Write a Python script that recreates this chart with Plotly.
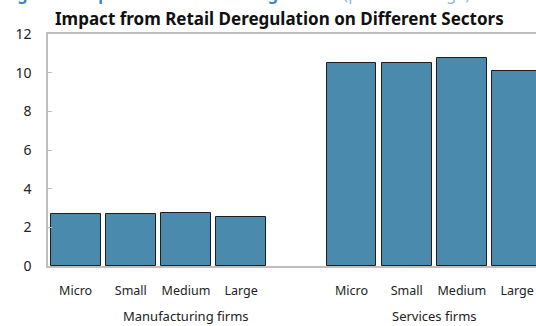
import plotly.graph_objects as go

# Category slots: 4 manufacturing sizes, one empty spacer slot, 4 services sizes
sizes = ["Micro", "Small", "Medium", "Large"]
groups = ["Manufacturing firms", "Services firms"]
manufacturing = [2.7, 2.7, 2.76, 2.56]
services = [10.52, 10.52, 10.75, 10.08]

manu_pos = [0, 1, 2, 3]
serv_pos = [5, 6, 7, 8]
y_ticks = [0, 2, 4, 6, 8, 10, 12]

W, H = 536, 326
L, R, T, B = 48, 0, 34, 60
FONT = "Noto Sans"
BAR = "#4a8aad"

fig = go.Figure()
fig.add_trace(go.Bar(
    x=manu_pos + serv_pos,
    y=manufacturing + services,
    width=0.905,
    marker=dict(color=BAR, line=dict(color="#1e1e1e", width=1)),
    hoverinfo="skip",
))

fig.update_layout(
    width=W, height=H,
    margin=dict(l=L, r=R, t=T, b=B, pad=0),
    paper_bgcolor="white", plot_bgcolor="white",
    showlegend=False,
    font=dict(family=FONT, size=12, color="#222222"),
    bargap=0,
)

fig.update_xaxes(
    range=[-0.5, 8.343],
    tickvals=manu_pos + serv_pos,
    ticktext=sizes + sizes,
    ticks="", showgrid=False, zeroline=False,
    showline=True, linecolor="#bfbfbf", linewidth=1.5, mirror=True,
    ticklabelstandoff=12,
    tickfont=dict(family=FONT, size=12.5, color="#222222"),
)
fig.update_yaxes(
    range=[0, 12],
    tickvals=y_ticks,
    ticks="inside", ticklen=4, tickcolor="#bfbfbf",
    showgrid=False, zeroline=False,
    showline=True, linecolor="#bfbfbf", linewidth=1.5,
    ticklabelstandoff=12,
    tickfont=dict(family=FONT, size=14, color="#222222"),
)

plot_w = W - L - R
plot_h = H - T - B


def paper_x(px):
    return (px - L) / plot_w


def paper_y(px):
    return 1 + (T - px) / plot_h


# Group labels centred under each group's slots
for gx, label in zip([2, 6.5], groups):
    fig.add_annotation(x=gx, y=paper_y(316), xref="x", yref="paper",
                       text=label, showarrow=False, yanchor="middle",
                       font=dict(family=FONT, size=13, color="#222222"))

# Chart subtitle
fig.add_annotation(x=paper_x(279), y=paper_y(18), xref="paper", yref="paper",
                   text="<b>Impact from Retail Deregulation on Different Sectors</b>",
                   showarrow=False, xanchor="center", yanchor="middle",
                   font=dict(family=FONT, size=17, color="#111111"))

# Main heading, running off the top edge of the page
fig.add_annotation(x=paper_x(2), y=paper_y(7), xref="paper", yref="paper",
                   xanchor="left", yanchor="bottom", showarrow=False,
                   text=("<b>Figure 4: Impact from Retail Deregulation</b>"
                         "<span style='color:#8db5d8'>  (percent change)</span>"),
                   font=dict(family=FONT, size=16, color="#3f86c3"))

fig.write_html("out.html")
